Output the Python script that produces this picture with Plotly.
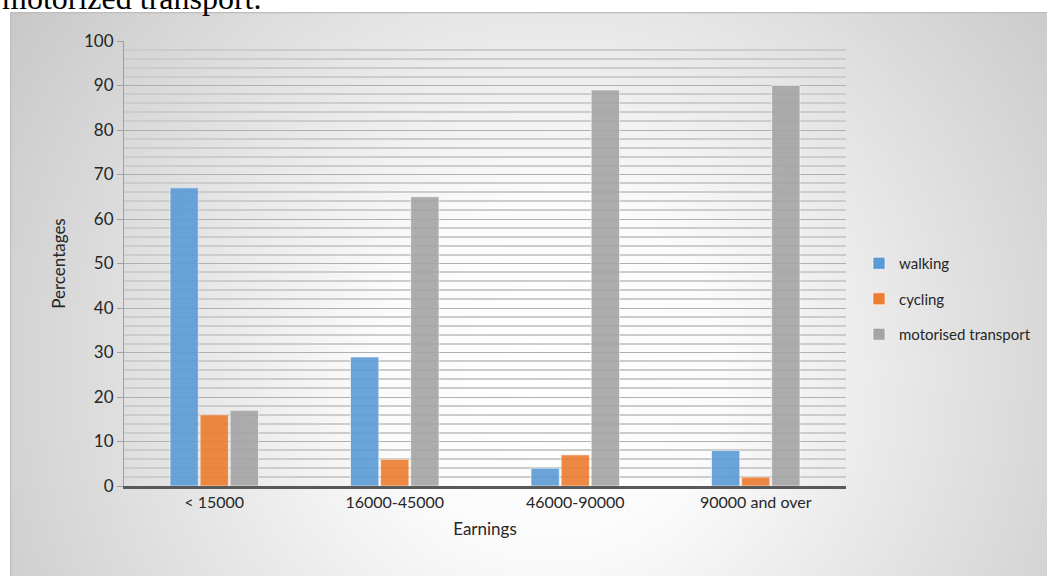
import base64
import plotly.graph_objects as go

categories = ["< 15000", "16000-45000", "46000-90000", "90000 and over"]
walking = [67, 29, 4, 8]
cycling = [16, 6, 7, 2]
motorised = [17, 65, 89, 90]
series_names = ["walking", "cycling", "motorised transport"]
colors = ["#5b9bd5", "#ed7d31", "#a5a5a5"]

W, H = 1047, 576
L, R, T, B = 124, 846, 41, 486  # plot area pixel bounds
pw, ph = R - L, B - T

def px_x(x):
    return (x - L) / pw

def px_y(y):
    return (B - y) / ph

svg = """<svg xmlns='http://www.w3.org/2000/svg' width='1037' height='564' viewBox='0 0 1037 564' preserveAspectRatio='none'>
<defs><radialGradient id='g' cx='540' cy='360' r='700' gradientUnits='userSpaceOnUse'>
<stop offset='0' stop-color='#ffffff'/><stop offset='0.25' stop-color='#fbfbfb'/><stop offset='1' stop-color='#c2c2c2'/>
</radialGradient></defs>
<rect x='0' y='0' width='1037' height='564' fill='url(#g)'/>
<line x1='0' y1='0.5' x2='1037' y2='0.5' stroke='#bdbdbd' stroke-width='1.5'/>
<line x1='0.5' y1='0' x2='0.5' y2='564' stroke='#bdbdbd' stroke-width='1.5'/>
</svg>"""
src = "data:image/svg+xml;base64," + base64.b64encode(svg.encode()).decode()

fig = go.Figure()
for i, (name, vals) in enumerate(zip(series_names, [walking, cycling, motorised])):
    fig.add_trace(go.Bar(
        x=categories, y=vals, name=name, legendgroup=name,
        marker=dict(color=colors[i], opacity=0.9, line=dict(color="rgba(255,255,255,0.6)", width=1)),
    ))

font_family = "Lato, 'Open Sans', sans-serif"

fig.update_layout(
    width=W, height=H,
    margin=dict(l=L, r=W - R, t=T, b=H - B, autoexpand=False),
    paper_bgcolor="white",
    plot_bgcolor="rgba(0,0,0,0)",
    barmode="group",
    bargap=0.5,
    bargroupgap=0.06,
    font=dict(family=font_family, size=16, color="#262626"),
    images=[dict(
        source=src, xref="paper", yref="paper",
        x=px_x(10), y=px_y(12),
        sizex=px_x(W) - px_x(10), sizey=px_y(12) - px_y(H),
        xanchor="left", yanchor="top", sizing="stretch", layer="below",
    )],
    legend=dict(
        x=px_x(859), y=px_y(247), xanchor="left", yanchor="top",
        bgcolor="rgba(0,0,0,0)", font=dict(size=15, family=font_family, color="#262626"),
        traceorder="grouped", tracegroupgap=13,
    ),
    xaxis=dict(
        title=dict(text="Earnings", font=dict(size=17), standoff=14),
        showline=True, linecolor="#595959", linewidth=2.5,
        showgrid=False, ticks="", tickfont=dict(size=16),
    ),
    yaxis=dict(
        title=dict(text="Percentages", font=dict(size=17), standoff=14),
        range=[0, 100], dtick=10, tick0=0,
        showline=True, linecolor="#a0a0a0", linewidth=1,
        ticks="outside", ticklen=6, tickcolor="#a0a0a0",
        showgrid=True, gridcolor="#b0b0b0", gridwidth=1,
        zeroline=False, tickfont=dict(size=17),
        minor=dict(dtick=2, showgrid=True, gridcolor="#cccccc", gridwidth=1.5),
    ),
    annotations=[dict(
        text="motorized transport.", xref="paper", yref="paper",
        x=px_x(0), y=px_y(18), xanchor="left", yanchor="bottom",
        showarrow=False, font=dict(family="'Liberation Serif', 'Times New Roman', serif", size=32, color="#000000"),
    )],
)

fig.write_html("out.html")
